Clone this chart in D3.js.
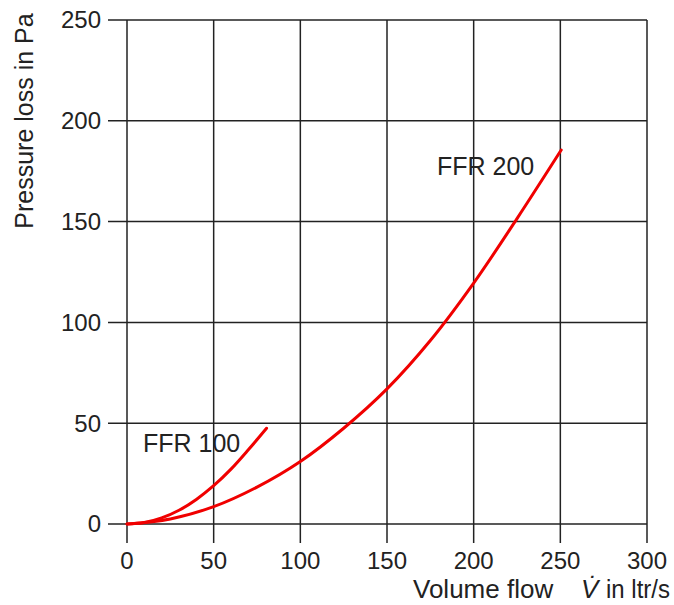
<!DOCTYPE html>
<html>
<head>
<meta charset="utf-8">
<script src="https://cdn.jsdelivr.net/npm/d3@7"></script>
<style>
  html, body { margin: 0; padding: 0; background: #fff; }
  svg { display: block; }
  text { font-family: "Liberation Sans", Arial, sans-serif; fill: #222; }
</style>
</head>
<body>
<svg id="chart" width="674" height="605"></svg>
<script>
// ---- data ----
const xTicks = [0, 50, 100, 150, 200, 250, 300];
const yTicks = [0, 50, 100, 150, 200, 250];
const ffr100X = [0, 10, 20, 30, 40, 50, 60, 70, 80.5];
const ffr100Y = [0, 0.7, 3, 6.8, 12.2, 19, 27.2, 36.8, 47.5];
const ffr200X = [0, 25, 50, 75, 100, 125, 150, 175, 200, 225, 250.5];
const ffr200Y = [0, 2.5, 8.6, 18.3, 31, 47.5, 67, 91, 119.5, 151.5, 185.5];
const seriesLabels = ["FFR 100", "FFR 200"];
const yTitle = "Pressure loss in Pa";

// ---- layout ----
const svg = d3.select("#chart");
const x = d3.scaleLinear().domain([0, 300]).range([127, 647]);
const y = d3.scaleLinear().domain([0, 250]).range([524, 20]);
const gridColor = "#222";
const tickExt = 19;

// vertical grid lines (with ticks extending below)
svg.append("g").selectAll("line").data(xTicks).join("line")
  .attr("x1", d => x(d)).attr("x2", d => x(d))
  .attr("y1", y(250)).attr("y2", y(0) + tickExt)
  .attr("stroke", gridColor).attr("stroke-width", 1.5);

// horizontal grid lines (with ticks extending left)
svg.append("g").selectAll("line").data(yTicks).join("line")
  .attr("x1", x(0) - tickExt).attr("x2", x(300))
  .attr("y1", d => y(d)).attr("y2", d => y(d))
  .attr("stroke", gridColor).attr("stroke-width", 1.5);

// x tick labels
svg.append("g").selectAll("text").data(xTicks).join("text")
  .attr("x", d => x(d)).attr("y", 569)
  .attr("text-anchor", "middle").attr("font-size", 24)
  .text(d => d);

// y tick labels
svg.append("g").selectAll("text").data(yTicks).join("text")
  .attr("x", 101).attr("y", d => y(d)).attr("dy", "0.35em")
  .attr("text-anchor", "end").attr("font-size", 24)
  .text(d => d);

// axis titles
svg.append("text")
  .attr("transform", "translate(33,121) rotate(-90)")
  .attr("text-anchor", "middle").attr("font-size", 25)
  .text(yTitle);

const xt = svg.append("text").attr("x", 413).attr("y", 598).attr("font-size", 26);
xt.append("tspan").text("Volume flow ");
xt.append("tspan").attr("x", 581).attr("font-style", "italic").text("V\u0307");
xt.append("tspan").attr("x", 606).attr("textLength", 64).attr("lengthAdjust", "spacingAndGlyphs").text("in ltr/s");

// curves
const line = d3.line().x(d => x(d[0])).y(d => y(d[1])).curve(d3.curveCatmullRom.alpha(0.5));
const s100 = ffr100X.map((v, i) => [v, ffr100Y[i]]);
const s200 = ffr200X.map((v, i) => [v, ffr200Y[i]]);
[s100, s200].forEach(s => {
  svg.append("path").datum(s).attr("d", line)
    .attr("fill", "none").attr("stroke", "#f00000").attr("stroke-width", 3)
    .attr("stroke-linecap", "round");
});

// series labels
svg.append("text").attr("x", 143).attr("y", 452).attr("font-size", 25).text(seriesLabels[0]);
svg.append("text").attr("x", 437).attr("y", 175).attr("font-size", 25).text(seriesLabels[1]);
</script>
</body>
</html>
